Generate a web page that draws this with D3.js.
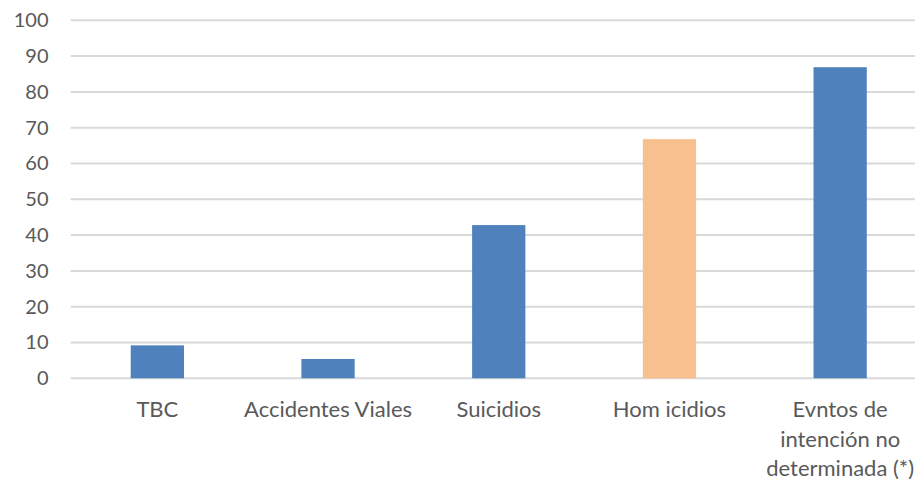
<!DOCTYPE html>
<html>
<head>
<meta charset="utf-8">
<script src="https://cdn.jsdelivr.net/npm/d3@7"></script>
<style>
  html, body { margin: 0; padding: 0; background: #ffffff; }
  svg { display: block; }
</style>
</head>
<body>
<svg id="chart" width="915" height="479"></svg>
<script>
// Death counts by cause
const categories = [
  ["TBC"],
  ["Accidentes Viales"],
  ["Suicidios"],
  ["Hom icidios"],
  ["Evntos de", "intención no", "determinada (*)"]
];
const values = [9.2, 5.4, 42.8, 66.8, 86.9];
const highlight = [false, false, false, true, false];
const yTicks = [0, 10, 20, 30, 40, 50, 60, 70, 80, 90, 100];

const svg = d3.select("#chart");
const W = 915;
const fontFamily = "Lato, 'Open Sans', sans-serif";

const y = d3.scaleLinear().domain([0, 100]).range([378.3, 20.3]);
const x = d3.scaleBand()
  .domain(d3.range(categories.length))
  .range([72, 925.5])
  .paddingInner(0.688)
  .paddingOuter(0.344);

// horizontal gridlines
svg.append("g")
  .selectAll("line")
  .data(yTicks)
  .join("line")
  .attr("x1", 70.7)
  .attr("x2", W)
  .attr("y1", d => y(d))
  .attr("y2", d => y(d))
  .attr("stroke", "#d9d9d9")
  .attr("stroke-width", 2);

// y axis labels
const yAxis = d3.axisLeft(y).tickValues(yTicks).tickSize(0).tickPadding(0);
const gy = svg.append("g").attr("transform", "translate(48.5,0)").call(yAxis);
gy.select(".domain").remove();
gy.selectAll("text")
  .attr("fill", "#595959")
  .style("font-family", fontFamily)
  .style("font-size", "20px");

// bars
svg.append("g")
  .selectAll("rect")
  .data(values)
  .join("rect")
  .attr("x", (d, i) => x(i))
  .attr("width", x.bandwidth())
  .attr("y", d => y(d))
  .attr("height", d => y(0) - y(d))
  .attr("fill", (d, i) => highlight[i] ? "#f9c08f" : "#4f81bd");

// category labels
const labels = svg.append("g")
  .selectAll("text")
  .data(categories)
  .join("text")
  .attr("x", (d, i) => x(i) + x.bandwidth() / 2)
  .attr("y", 417)
  .attr("text-anchor", "middle")
  .attr("fill", "#595959")
  .style("font-family", fontFamily)
  .style("font-size", "22px");
labels.selectAll("tspan")
  .data(d => d)
  .join("tspan")
  .attr("x", function() { return d3.select(this.parentNode).attr("x"); })
  .attr("dy", (d, i) => i === 0 ? 0 : 29.7)
  .text(d => d);
</script>
</body>
</html>
